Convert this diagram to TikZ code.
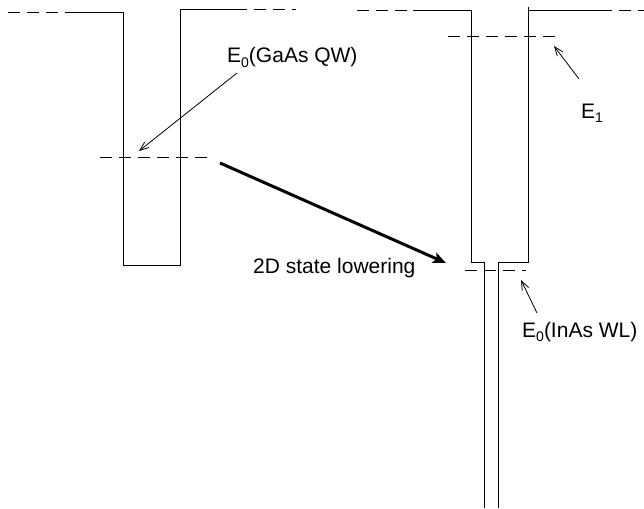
\documentclass[tikz,border=0pt]{standalone}
\usepackage{fontspec}
\setmainfont{Liberation Sans}
\usetikzlibrary{arrows.meta}
\newcommand{\Esub}[1]{E\raisebox{-0.45ex}{\fontsize{14}{14}\selectfont #1}}
\begin{document}
\begin{tikzpicture}[x=1pt,y=-1pt,
  band/.style={line width=0.9pt,black},
  lvl/.style={line width=0.9pt,black,dash pattern=on 12pt off 7pt},
  thinarrow/.style={line width=0.8pt,-{Straight Barb[length=9pt,width=7pt]}},
  thickarrow/.style={line width=3pt,-{Stealth[length=13pt,width=11pt,inset=3pt]}},
  lab/.style={inner sep=0pt,anchor=base west,font=\fontsize{21}{24}\selectfont}]
\useasboundingbox (0,0) rectangle (644,508);
% ---- left well (GaAs QW)
\draw[lvl] (8,12) -- (65,12);
\draw[band] (65,12) -- (123,12) -- (123,265) -- (180,265) -- (180,9) -- (235,9);
\draw[lvl] (235,9) -- (296,9);
\draw[lvl] (100,157) -- (210,157);
% ---- right well with InAs WL
\draw[lvl] (357,10) -- (413,10);
\draw[band] (413,10) -- (471,10) -- (471,262) -- (484,262) -- (484,508);
\draw[band] (498,508) -- (498,262) -- (528,262) -- (528,7);
\draw[band] (528,10) -- (600,10);
\draw[lvl] (600,10) -- (644,10);
\draw[lvl] (448,36) -- (558,36);
\draw[lvl] (465,270) -- (526,270);
% ---- labels
\node[lab] (lgaas) at (227,63) {\Esub{0}(GaAs QW)};
\node[lab] (lE1) at (581,118) {\Esub{1}};
\node[lab] (linas) at (522,337) {\Esub{0}(InAs WL)};
\node[lab] (llow) at (253,273) {2D state lowering};
% ---- connectors
\coordinate (gaasTail) at (237,73);
\coordinate (gaasTip) at (139,151);
\coordinate (e1Tail) at (579,79);
\coordinate (e1Tip) at (554,46);
\coordinate (inTail) at (537,313);
\coordinate (inTip) at (521,280);
\coordinate (lowTail) at (220,163);
\coordinate (lowTip) at (446,263);
\draw[thinarrow] (gaasTail) -- (gaasTip);
\draw[thinarrow] (e1Tail) -- (e1Tip);
\draw[thinarrow] (inTail) -- (inTip);
\draw[thickarrow] (lowTail) -- (lowTip);
\end{tikzpicture}
\end{document}
